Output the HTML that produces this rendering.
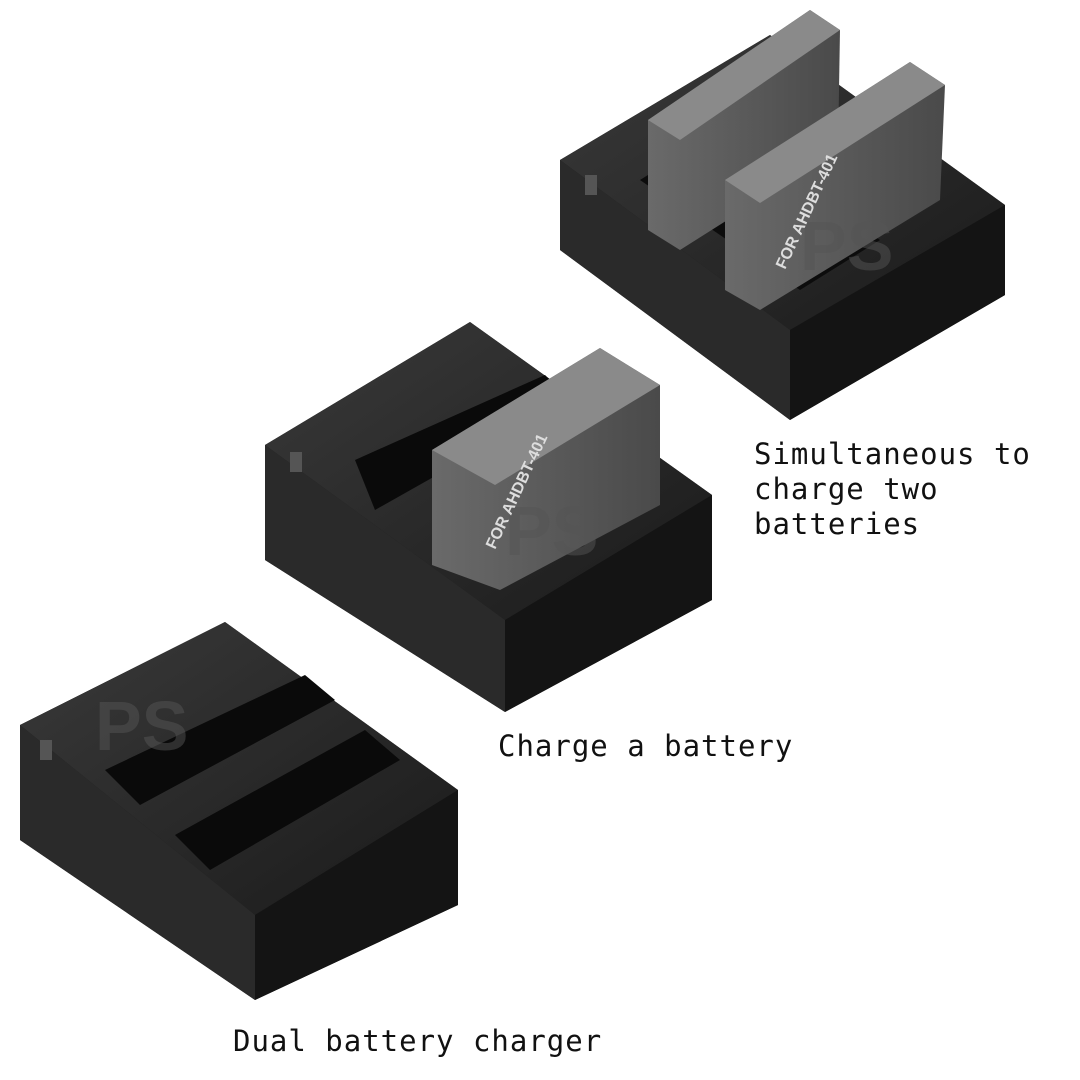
<!DOCTYPE html>
<html><head><meta charset="utf-8"><style>
html,body{margin:0;padding:0;background:#fff;}
.t{position:absolute;font-family:"DejaVu Sans Mono","Liberation Mono",monospace;font-size:29px;color:#111;letter-spacing:1px;line-height:35px;}
</style></head><body>
<div style="position:relative;width:1080px;height:1080px;overflow:hidden;">
<svg width="1080" height="1080" viewBox="0 0 1080 1080" style="position:absolute;left:0;top:0">
<defs>
<linearGradient id="g1" x1="0" y1="0" x2="1" y2="1"><stop offset="0" stop-color="#3a3a3a"/><stop offset="1" stop-color="#1a1a1a"/></linearGradient>
<linearGradient id="gb" x1="0" y1="0" x2="1" y2="0"><stop offset="0" stop-color="#6a6a6a"/><stop offset="1" stop-color="#4a4a4a"/></linearGradient>
</defs>
<!-- Charger 3 (top right) -->
<polygon points="560,160 770,35 1005,205 1005,295 790,420 560,250" fill="#1c1c1c"/>
<polygon points="560,160 770,35 1005,205 790,330" fill="url(#g1)"/>
<polygon points="560,160 790,330 790,420 560,250" fill="#2a2a2a"/>
<polygon points="790,330 1005,205 1005,295 790,420" fill="#141414"/>
<polygon points="640,180 720,130 880,240 800,290" fill="#0c0c0c"/>
<!-- batteries -->
<polygon points="648,120 810,10 840,30 838,150 680,250 648,230" fill="url(#gb)"/>
<polygon points="648,120 810,10 840,30 680,140" fill="#8a8a8a"/>
<polygon points="725,180 910,62 945,85 940,200 760,310 725,290" fill="url(#gb)"/>
<polygon points="725,180 910,62 945,85 760,203" fill="#8a8a8a"/>
<!-- Charger 2 (middle) -->
<polygon points="265,445 470,322 712,495 712,600 505,712 265,560" fill="#1c1c1c"/>
<polygon points="265,445 470,322 712,495 505,620" fill="url(#g1)"/>
<polygon points="265,445 505,620 505,712 265,560" fill="#2a2a2a"/>
<polygon points="505,620 712,495 712,600 505,712" fill="#141414"/>
<polygon points="355,460 545,375 570,400 375,510" fill="#0a0a0a"/>
<polygon points="432,450 600,348 660,385 660,505 500,590 432,565" fill="url(#gb)"/>
<polygon points="432,450 600,348 660,385 495,485" fill="#8a8a8a"/>
<!-- Charger 1 (bottom left) -->
<polygon points="20,725 225,622 458,790 458,905 255,1000 20,840" fill="#1c1c1c"/>
<polygon points="20,725 225,622 458,790 255,915" fill="url(#g1)"/>
<polygon points="20,725 255,915 255,1000 20,840" fill="#2a2a2a"/>
<polygon points="255,915 458,790 458,905 255,1000" fill="#141414"/>
<polygon points="105,770 305,675 335,700 140,805" fill="#0a0a0a"/>
<polygon points="175,835 365,730 400,760 210,870" fill="#0a0a0a"/>
<rect x="40" y="740" width="12" height="20" fill="#555"/>
<rect x="290" y="452" width="12" height="20" fill="#555"/>
<rect x="585" y="175" width="12" height="20" fill="#555"/>
<text x="95" y="750" font-family="Liberation Sans" font-weight="bold" font-size="70" fill="#555" opacity="0.5">PS</text>
<text x="505" y="555" font-family="Liberation Sans" font-weight="bold" font-size="70" fill="#555" opacity="0.5">PS</text>
<text x="800" y="270" font-family="Liberation Sans" font-weight="bold" font-size="70" fill="#555" opacity="0.5">PS</text>
<text x="0" y="0" font-family="Liberation Sans" font-size="16" fill="#ddd" font-weight="bold" transform="translate(495,550) rotate(-65)">FOR AHDBT-401</text>
<text x="0" y="0" font-family="Liberation Sans" font-size="16" fill="#ddd" font-weight="bold" transform="translate(785,270) rotate(-65)">FOR AHDBT-401</text>
</svg>
<div class="t" style="left:754px;top:437px;">Simultaneous to<br>charge two<br>batteries</div>
<div class="t" style="left:498px;top:729px;">Charge a battery</div>
<div class="t" style="left:233px;top:1024px;">Dual battery charger</div>
</div>
</body></html>
